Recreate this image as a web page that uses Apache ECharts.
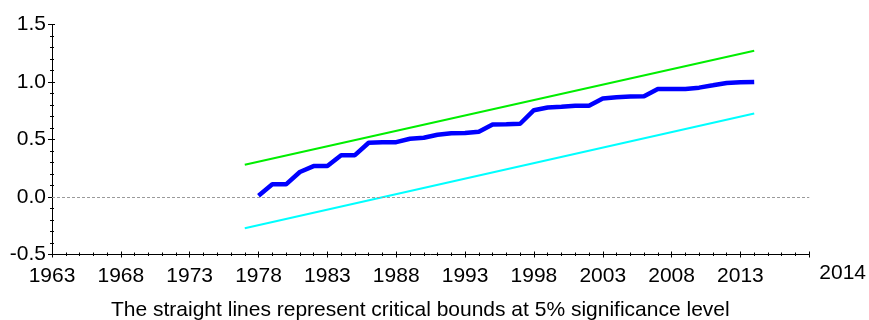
<!DOCTYPE html>
<html>
<head>
<meta charset="utf-8">
<script src="https://cdn.jsdelivr.net/npm/echarts@6/dist/echarts.min.js"></script>
<style>
html,body{margin:0;padding:0;background:#fff;}
#chart{width:869px;height:320px;}
</style>
</head>
<body>
<div id="chart"></div>
<script>
// ---- data ----
var years = [1978,1979,1980,1981,1982,1983,1984,1985,1986,1987,1988,1989,1990,1991,1992,1993,1994,1995,1996,1997,1998,1999,2000,2001,2002,2003,2004,2005,2006,2007,2008,2009,2010,2011,2012,2013,2014];
var cusumSq = [0.01,0.11,0.11,0.217,0.269,0.269,0.364,0.364,0.472,0.477,0.477,0.506,0.515,0.541,0.555,0.556,0.567,0.63,0.633,0.637,0.755,0.778,0.784,0.793,0.793,0.856,0.867,0.873,0.876,0.94,0.94,0.94,0.951,0.971,0.992,0.997,1.0];
var boundYears = [1977, 2014];
var upperBound = [0.281, 1.272];
var lowerBound = [-0.271, 0.726];
var xTickLabels = ['1963','1968','1973','1978','1983','1988','1993','1998','2003','2008','2013'];
var yTickLabels = ['-0.5','0.0','0.5','1.0','1.5'];
var endLabel = '2014';
var caption = 'The straight lines represent critical bounds at 5% significance level';

function pairs(xs, ys){ return xs.map(function(x,i){ return [x, ys[i]]; }); }

var FONT = 'Liberation Sans, Arial, sans-serif';
var FS = 21;
var chart = echarts.init(document.getElementById('chart'), null, {renderer:'canvas'});

var xBase = {
  type:'value', min:1963, max:2018, interval:5,
  position:'bottom',
  splitLine:{show:false}
};
var yBase = {
  type:'value', min:-0.5, max:1.5, interval:0.5,
  position:'left',
  splitLine:{show:false}
};

chart.setOption({
  animation:false,
  title:{
    text: caption, left:111, top:300, padding:0,
    textStyle:{fontFamily:FONT, fontSize:FS, fontWeight:'normal', color:'#000'}
  },
  grid:{left:52, right:58, top:24.5, bottom:65.5, containLabel:false},
  xAxis:[
    Object.assign({}, xBase, {
      axisLine:{show:true, onZero:false, lineStyle:{color:'#000', width:1}},
      axisTick:{show:true, inside:false, length:3, lineStyle:{color:'#000'}},
      minorTick:{show:true, splitNumber:5, length:1.5, lineStyle:{color:'#000'}},
      axisLabel:{show:true, margin:11, fontFamily:FONT, fontSize:FS, color:'#000',
        formatter:function(v){ var s=String(Math.round(v)); return xTickLabels.indexOf(s)>=0 ? s : ''; }},
      name:endLabel, nameLocation:'end', nameGap:10,
      nameTextStyle:{fontFamily:FONT, fontSize:FS, color:'#000', verticalAlign:'top', padding:[8,0,0,0]}
    }),
    Object.assign({}, xBase, {
      axisLine:{show:false, onZero:false},
      axisTick:{show:true, inside:true, length:3, lineStyle:{color:'#000'}},
      minorTick:{show:true, splitNumber:5, length:2, lineStyle:{color:'#000'}},
      axisLabel:{show:false}
    })
  ],
  yAxis:[
    Object.assign({}, yBase, {
      axisLine:{show:true, onZero:false, lineStyle:{color:'#000', width:1}},
      axisTick:{show:true, inside:false, length:4, lineStyle:{color:'#000'}},
      minorTick:{show:true, splitNumber:5, length:2, lineStyle:{color:'#000'}},
      axisLabel:{show:true, margin:6, fontFamily:FONT, fontSize:FS, color:'#000',
        formatter:function(v){ var s=v.toFixed(1); return yTickLabels.indexOf(s)>=0 ? s : ''; }}
    }),
    Object.assign({}, yBase, {
      axisLine:{show:false, onZero:false},
      axisTick:{show:true, inside:true, length:3, lineStyle:{color:'#000'}},
      minorTick:{show:true, splitNumber:5, length:2, lineStyle:{color:'#000'}},
      axisLabel:{show:false}
    })
  ],
  series:[
    {
      name:'upper', type:'line', xAxisIndex:0, yAxisIndex:0,
      data:pairs(boundYears, upperBound), showSymbol:false, symbol:'none',
      lineStyle:{color:'#00ee00', width:2}, z:2
    },
    {
      name:'lower', type:'line', xAxisIndex:0, yAxisIndex:0,
      data:pairs(boundYears, lowerBound), showSymbol:false, symbol:'none',
      lineStyle:{color:'#00ffff', width:2}, z:2
    },
    {
      name:'CUSUM of squares', type:'line', xAxisIndex:0, yAxisIndex:0,
      data:pairs(years, cusumSq), showSymbol:false, symbol:'none',
      lineStyle:{color:'#0000ff', width:4.5}, z:3,
      markLine:{
        silent:true, symbol:'none', label:{show:false},
        lineStyle:{color:'#9a9a9a', type:[3,2], width:1},
        data:[{yAxis:0}]
      }
    }
  ]
});
</script>
</body>
</html>
